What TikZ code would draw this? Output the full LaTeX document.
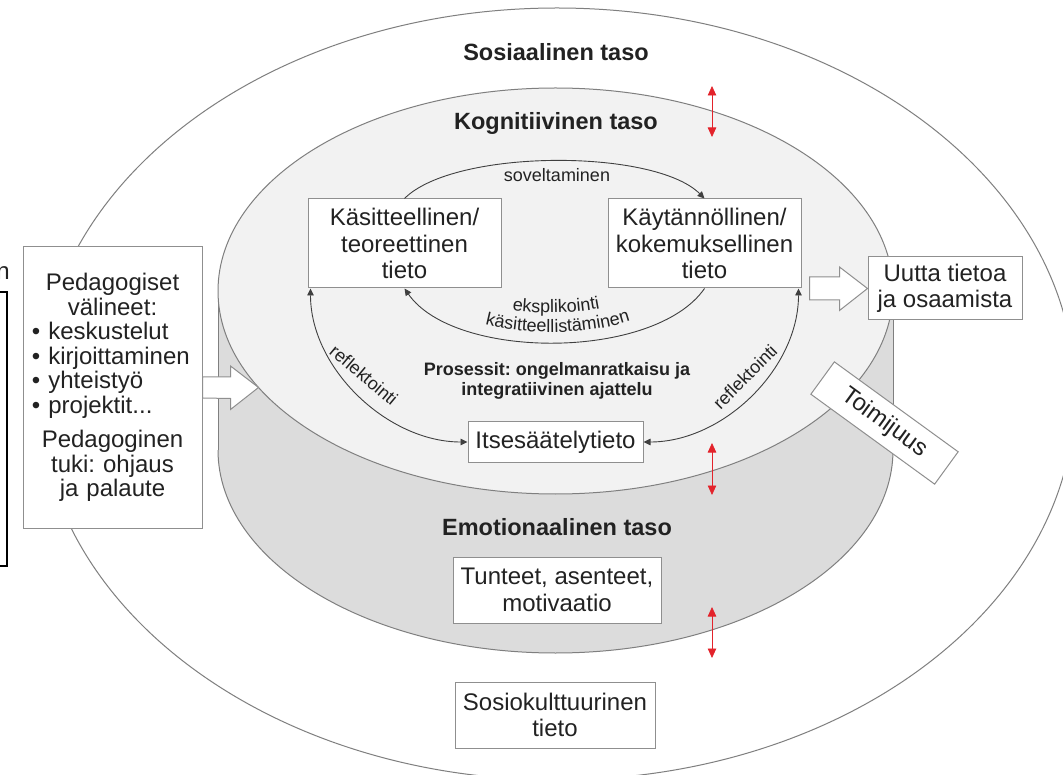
\documentclass[tikz,border=0pt]{standalone}
\usepackage{fontspec}
\setmainfont{Liberation Sans}
\frenchspacing
\usetikzlibrary{arrows.meta,decorations.text,calc}
\definecolor{linegray}{HTML}{7F7F7F}
\definecolor{boxgray}{HTML}{8F8F8F}
\definecolor{topfill}{HTML}{F2F2F2}
\definecolor{sidefill}{HTML}{DCDCDC}
\definecolor{txt}{HTML}{222222}
\definecolor{redarr}{HTML}{E3232B}
\tikzset{
  outline/.style={draw=linegray, line width=1pt},
  box/.style={draw=boxgray, line width=1pt, fill=white, inner sep=2pt, align=center, text=txt,
              font=\fontsize{24}{26.5}\selectfont},
  title/.style={font=\bfseries\fontsize{23.5}{26}\selectfont, text=txt, inner sep=0pt},
  small/.style={font=\fontsize{18}{20}\selectfont, text=txt, inner sep=0pt},
  conn/.style={draw=black!75, line width=0.9pt, -{Triangle[width=6.5pt,length=7pt]}},
  conn2/.style={draw=black!75, line width=0.9pt, {Triangle[width=6.5pt,length=7pt]}-{Triangle[width=6.5pt,length=7pt]}},
  redline/.style={draw=redarr, line width=0.8pt, {Triangle[width=8.5pt,length=9.5pt]}-{Triangle[width=8.5pt,length=9.5pt]}},
  hollow/.style={draw=boxgray, line width=1pt, fill=white, line join=miter}
}
\begin{document}
\begin{tikzpicture}[x=1pt,y=-1pt]
\useasboundingbox (0,0) rectangle (1063,775);
\clip (0,0) rectangle (1063,775);
\fill[white] (0,0) rectangle (1063,775);

% outer (social) ellipse
\draw[outline] (557,394) ellipse [x radius=518, y radius=386];

% cylinder side
\fill[sidefill] (218,291) rectangle (893,450);
\fill[sidefill] (555.5,450) ellipse [x radius=337.5, y radius=203];
\begin{scope}
  \clip (0,450) rectangle (1063,775);
  \draw[outline] (555.5,450) ellipse [x radius=337.5, y radius=203];
\end{scope}
\draw[outline] (218,291) -- (218,450);
\draw[outline] (893,291) -- (893,450);
% cylinder top
\draw[outline, fill=topfill] (555.5,291) ellipse [x radius=337.5, y radius=203];

% titles
\node[title] (sosT) at (556,52) {Sosiaalinen taso};
\node[title] (kogT) at (556,123) {Kognitiivinen taso};
\node[title] (emoT) at (557,527) {Emotionaalinen taso};

% boxes
\node[box, minimum width=193pt, minimum height=89pt] (kas) at (404.5,243.5)
  {Käsitteellinen/\\teoreettinen\\tieto};
\node[box, minimum width=193pt, minimum height=89pt] (kay) at (704.5,243.5)
  {Käytännöllinen/\\kokemuksellinen\\tieto};
\node[box, minimum width=175pt, minimum height=40pt] (its) at (555.5,442) {Itsesäätelytieto};
\node[box, minimum width=154pt, minimum height=63pt] (uut) at (945,288.5) {Uutta tietoa\\ja osaamista};
\node[box, minimum width=208pt, minimum height=66pt] (tun) at (557,590) {Tunteet, asenteet,\\motivaatio};
\node[box, minimum width=200pt, minimum height=66pt] (sok) at (555,715) {Sosiokulttuurinen\\tieto};
\node[box, minimum width=153pt, minimum height=40pt, rotate=-36] (toi) at (884.5,423) {Toimijuus};
\node[box, minimum width=179pt, minimum height=281pt, text width=171pt, align=left,
      font=\fontsize{24}{24.5}\selectfont] (ped) at (112.5,387.5)
  {\makebox[\linewidth]{Pedagogiset}\\
   \makebox[\linewidth]{välineet:}\\
   \hspace*{5pt}\textbullet\ keskustelut\\
   \hspace*{5pt}\textbullet\ kirjoittaminen\\
   \hspace*{5pt}\textbullet\ yhteistyö\\
   \hspace*{5pt}\textbullet\ projektit...\\[10pt]
   \makebox[\linewidth]{Pedagoginen}\\
   \makebox[\linewidth]{tuki: ohjaus}\\
   \makebox[\linewidth]{ja palaute}};

% process text
\node[small, font=\bfseries\fontsize{18}{19.5}\selectfont, align=center] (pros) at (557,381)
  {Prosessit: ongelmanratkaisu ja\\integratiivinen ajattelu};

% inner connectors
\draw[conn] (kas.north) .. controls +(50,-50) and +(-50,-50) .. (kay.north);
\draw[conn] (kay.south) .. controls +(-50,72) and +(50,72) .. (kas.south);
\draw[conn2] ([xshift=3pt]kas.south west) .. controls +(0,80) and +(-80,0) .. (its.west);
\draw[conn2] ([xshift=-3pt]kay.south east) .. controls +(0,80) and +(80,0) .. (its.east);

\node[small] (sov) at (557,175) {soveltaminen};
\path[decorate, decoration={text along path, text align=center,
   text={|\fontsize{18}{20}\selectfont\color{txt}|eksplikointi}}]
   (495,307) .. controls (525,315) and (585,315) .. (617,304);
\path[decorate, decoration={text along path, text align=center,
   text={|\fontsize{18}{20}\selectfont\color{txt}|käsitteellistäminen}}]
   (470,320) .. controls (515,337) and (598,337) .. (645,315);
\node[small, rotate=-40] (refl1) at (364,375) {reflektointi};
\node[small, rotate=45] (refl2) at (745,377) {reflektointi};

% hollow block arrows
\draw[hollow] ($(ped.east)+(0,-10.5)$) -- ++(28,0) -- ++(0,-11) -- ($(ped.east)+(56,0)$)
   -- ++(-28,22) -- ++(0,-11) -- ($(ped.east)+(0,10.5)$) -- cycle;
\draw[hollow] ($(uut.west)+(-58,-11.5)$) -- ++(30,0) -- ++(0,-10) -- (uut.west)
   -- ++(-28,22) -- ++(0,-10.5) -- ++(-30,0) -- cycle;

% red double arrows
\coordinate (r1a) at (712,86);  \coordinate (r1b) at (712,137);
\coordinate (r2a) at (712,443); \coordinate (r2b) at (712,495);
\coordinate (r3a) at (712,607); \coordinate (r3b) at (712,658);
\draw[redline] (r1a) -- (r1b);
\draw[redline] (r2a) -- (r2b);
\draw[redline] (r3a) -- (r3b);

% cropped fragments at the left edge
\node[anchor=base east, inner sep=0pt, text=txt, font=\fontsize{24}{26}\selectfont] (frag) at (10,280) {n};
\draw[black, line width=2.5pt] (-5,292) -- (7,292) -- (7,566) -- (-5,566);
\end{tikzpicture}
\end{document}
